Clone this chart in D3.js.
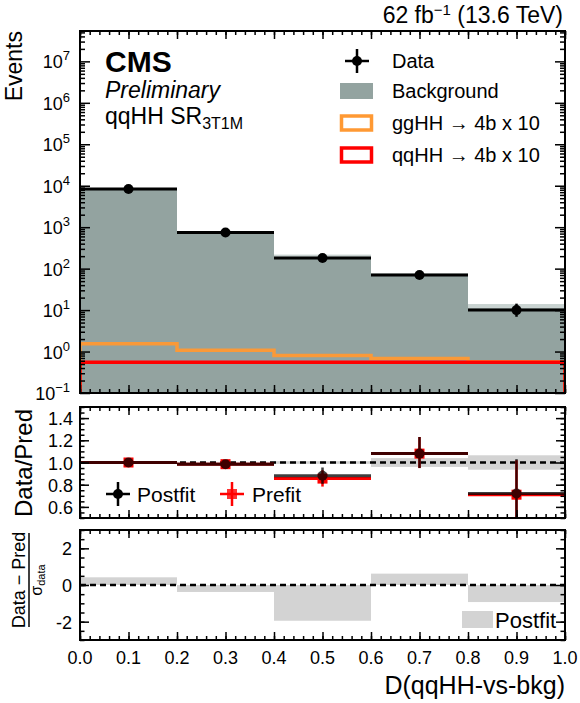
<!DOCTYPE html>
<html>
<head>
<meta charset="utf-8">
<script src="https://cdn.jsdelivr.net/npm/d3@7"></script>
<style>
  body { margin: 0; background: #fff; }
  svg text { font-family: "Liberation Sans", Arial, Helvetica, sans-serif; fill: #000; }
  .axis path { display: none; }
  .axis line { stroke: #000; stroke-width: 1.5; }
</style>
</head>
<body>
<svg id="chart" width="580" height="703"></svg>
<script>
// bins of D(qqHH-vs-bkg)
const binEdges = [0, 0.2, 0.4, 0.6, 0.8, 1.0];

// top panel (events)
const dataCounts = [8300, 745, 180, 70, 10];
const dataErrUp = [92, 28, 14, 9, 4.3];
const dataErrDown = [91, 27, 13, 8, 3.1];
const bkgCounts = [8300, 715, 190, 69, 11];
const bkgUncUp = [8500, 760, 218, 77, 14];
const bkgUncDown = [8100, 680, 175, 63, 10];
const ggHHx10 = [1.55, 1.08, 0.8, 0.68, 0.57];
const qqHHx10 = [0.55, 0.55, 0.55, 0.55, 0.55];

// middle panel (data / pred)
const ratioPostfit = [1.0, 0.985, 0.88, 1.08, 0.72];
const ratioPostfitUp = [0.012, 0.037, 0.075, 0.15, 0.31];
const ratioPostfitDown = [0.012, 0.036, 0.072, 0.13, 0.25];
const ratioPrefit = [1.0, 0.985, 0.855, 1.08, 0.71];
const ratioPrefitUp = [0.012, 0.037, 0.075, 0.15, 0.31];
const ratioPrefitDown = [0.012, 0.036, 0.072, 0.13, 0.25];
const predRelUnc = [0.004, 0.006, 0.012, 0.04, 0.065];

// bottom panel (pulls)
const pullPostfit = [0.42, -0.38, -1.95, 0.62, -0.93];

// tick values
const xMajorTicks = [0, 0.1, 0.2, 0.3, 0.4, 0.5, 0.6, 0.7, 0.8, 0.9, 1.0];
const logExponents = [-1, 0, 1, 2, 3, 4, 5, 6, 7];
const ratioMajorTicks = [0.6, 0.8, 1.0, 1.2, 1.4];
const pullMajorTicks = [-2, 0, 2];

const bkgColor = "#93a3a0";
const bandColor = "#d3d3d3";

const svg = d3.select("#chart");
const X0 = 80, X1 = 565;
const panels = {
  top: [31, 393],
  ratio: [407, 518],
  pull: [530, 640]
};

const x = d3.scaleLinear().domain([0, 1]).range([X0, X1]);
const yTop = d3.scaleLog().domain([0.1, 5.4e7]).range([panels.top[1], panels.top[0]]);
const yRatio = d3.scaleLinear().domain([0.5, 1.5]).range([panels.ratio[1], panels.ratio[0]]);
const yPull = d3.scaleLinear().domain([-3, 3]).range([panels.pull[1], panels.pull[0]]);

const bins = d3.range(binEdges.length - 1).map(i => ({
  i: i, lo: binEdges[i], hi: binEdges[i + 1], mid: (binEdges[i] + binEdges[i + 1]) / 2
}));

// clip each panel
const defs = svg.append("defs");
Object.entries(panels).forEach(([k, [t, b]]) => {
  defs.append("clipPath").attr("id", "clip-" + k)
    .append("rect").attr("x", X0).attr("y", t).attr("width", X1 - X0).attr("height", b - t);
});

function stepPath(vals, yScale, yBase) {
  let p = d3.path();
  p.moveTo(x(binEdges[0]), yBase);
  vals.forEach((v, i) => {
    p.lineTo(x(binEdges[i]), yScale(v));
    p.lineTo(x(binEdges[i + 1]), yScale(v));
  });
  p.lineTo(x(binEdges[binEdges.length - 1]), yBase);
  return p.toString();
}

function xTicks(top, bottom) {
  const minor = d3.range(0, 1.0001, 0.02);
  [[d3.axisBottom, bottom], [d3.axisTop, top]].forEach(([ax, yy]) => {
    svg.append("g").attr("class", "axis").attr("transform", `translate(0,${yy})`)
      .call(ax(x).tickValues(xMajorTicks).tickSize(-8).tickFormat(""));
    svg.append("g").attr("class", "axis").attr("transform", `translate(0,${yy})`)
      .call(ax(x).tickValues(minor).tickSize(-4).tickFormat(""));
  });
}

function yTicks(yScale, major, minor, majLen, minLen) {
  [[d3.axisLeft, X0], [d3.axisRight, X1]].forEach(([ax, xx]) => {
    svg.append("g").attr("class", "axis").attr("transform", `translate(${xx},0)`)
      .call(ax(yScale).tickValues(major).tickSize(-majLen).tickFormat(""));
    svg.append("g").attr("class", "axis").attr("transform", `translate(${xx},0)`)
      .call(ax(yScale).tickValues(minor).tickSize(-minLen).tickFormat(""));
  });
}

function frame([t, b]) {
  svg.append("rect").attr("x", X0).attr("y", t).attr("width", X1 - X0).attr("height", b - t)
    .attr("fill", "none").attr("stroke", "#000").attr("stroke-width", 2);
}

// ---------------- top panel ----------------
const gTop = svg.append("g").attr("clip-path", "url(#clip-top)");

gTop.selectAll(".bkg").data(bins).enter().append("rect")
  .attr("x", d => x(d.lo)).attr("width", d => x(d.hi) - x(d.lo))
  .attr("y", d => yTop(bkgCounts[d.i])).attr("height", d => panels.top[1] - yTop(bkgCounts[d.i]))
  .attr("fill", bkgColor).attr("shape-rendering", "crispEdges");

gTop.selectAll(".band").data(bins).enter().append("rect")
  .attr("x", d => x(d.lo)).attr("width", d => x(d.hi) - x(d.lo))
  .attr("y", d => yTop(bkgUncUp[d.i])).attr("height", d => yTop(bkgCounts[d.i]) - yTop(bkgUncUp[d.i]))
  .attr("fill", "#c9d3d1");

gTop.append("path").attr("d", stepPath(ggHHx10, yTop, panels.top[1]))
  .attr("fill", "none").attr("stroke", "#ff9933").attr("stroke-width", 3.5).attr("opacity", 0.95);
gTop.append("path").attr("d", stepPath(qqHHx10, yTop, panels.top[1]))
  .attr("fill", "none").attr("stroke", "#ff0000").attr("stroke-width", 3.5);

const gData = gTop.selectAll(".data").data(bins).enter().append("g");
gData.append("line")
  .attr("x1", d => x(d.lo)).attr("x2", d => x(d.hi))
  .attr("y1", d => yTop(dataCounts[d.i])).attr("y2", d => yTop(dataCounts[d.i]))
  .attr("stroke", "#000").attr("stroke-width", 3);
gData.append("line")
  .attr("x1", d => x(d.mid)).attr("x2", d => x(d.mid))
  .attr("y1", d => yTop(dataCounts[d.i] + dataErrUp[d.i])).attr("y2", d => yTop(dataCounts[d.i] - dataErrDown[d.i]))
  .attr("stroke", "#000").attr("stroke-width", 2.5);
gData.append("circle")
  .attr("cx", d => x(d.mid)).attr("cy", d => yTop(dataCounts[d.i])).attr("r", 5)
  .attr("fill", "#000");

const logMinor = [];
logExponents.forEach(e => { for (let k = 2; k <= 9; k++) if (k * Math.pow(10, e) < 5.4e7) logMinor.push(k * Math.pow(10, e)); });
xTicks(panels.top[0], panels.top[1]);
yTicks(yTop, logExponents.map(e => Math.pow(10, e)), logMinor, 10, 5);
frame(panels.top);

// y labels 10^n
const yLab = svg.selectAll(".ylab").data(logExponents).enter().append("text")
  .attr("x", 70).attr("y", e => yTop(Math.pow(10, e)) + 7)
  .attr("text-anchor", "end").style("font-size", "18px");
yLab.append("tspan").text("10");
yLab.append("tspan").attr("dy", -8).style("font-size", "13px").text(e => e < 0 ? "\u22121" : e);

svg.append("text").attr("transform", "translate(22,31) rotate(-90)")
  .attr("text-anchor", "end").style("font-size", "23px").text("Events");

// header texts
const lumi = svg.append("text").attr("x", 563).attr("y", 23).attr("text-anchor", "end").style("font-size", "23px");
lumi.append("tspan").text("62 fb");
lumi.append("tspan").attr("dy", -8).style("font-size", "15px").text("\u22121");
lumi.append("tspan").attr("dy", 8).text(" (13.6 TeV)");

svg.append("text").attr("x", 105).attr("y", 72).style("font-size", "30px").style("font-weight", "bold").text("CMS");
svg.append("text").attr("x", 105).attr("y", 98).style("font-size", "23px").style("font-style", "italic").text("Preliminary");
const reg = svg.append("text").attr("x", 105).attr("y", 124).style("font-size", "23px");
reg.append("tspan").text("qqHH SR");
reg.append("tspan").attr("dy", 5).style("font-size", "16px").text("3T1M");

// legend
const legX = 357, legTextX = 392;
const legY = [61, 91, 123, 155];
svg.append("line").attr("x1", legX - 12).attr("x2", legX + 12).attr("y1", legY[0]).attr("y2", legY[0]).attr("stroke", "#000").attr("stroke-width", 2.5);
svg.append("line").attr("x1", legX).attr("x2", legX).attr("y1", legY[0] - 12).attr("y2", legY[0] + 12).attr("stroke", "#000").attr("stroke-width", 2.5);
svg.append("circle").attr("cx", legX).attr("cy", legY[0]).attr("r", 5).attr("fill", "#000");
svg.append("rect").attr("x", legX - 17).attr("y", legY[1] - 8).attr("width", 33).attr("height", 16).attr("fill", bkgColor);
svg.append("rect").attr("x", legX - 15.5).attr("y", legY[2] - 7).attr("width", 30).attr("height", 14)
  .attr("fill", "none").attr("stroke", "#ff9933").attr("stroke-width", 3.5);
svg.append("rect").attr("x", legX - 15.5).attr("y", legY[3] - 7).attr("width", 30).attr("height", 14)
  .attr("fill", "none").attr("stroke", "#ff0000").attr("stroke-width", 3.5);
const legLabels = ["Data", "Background", "ggHH \u2192 4b x 10", "qqHH \u2192 4b x 10"];
svg.selectAll(".leg").data(legLabels).enter().append("text")
  .attr("x", legTextX).attr("y", (d, i) => legY[i] + 7).style("font-size", "20px").text(d => d);

// ---------------- ratio panel ----------------
const gRatio = svg.append("g").attr("clip-path", "url(#clip-ratio)");
gRatio.selectAll(".rband").data(bins).enter().append("rect")
  .attr("x", d => x(d.lo)).attr("width", d => x(d.hi) - x(d.lo))
  .attr("y", d => yRatio(1 + predRelUnc[d.i])).attr("height", d => yRatio(1 - predRelUnc[d.i]) - yRatio(1 + predRelUnc[d.i]))
  .attr("fill", bandColor);
gRatio.append("line").attr("x1", X0).attr("x2", X1).attr("y1", yRatio(1)).attr("y2", yRatio(1))
  .attr("stroke", "#000").attr("stroke-width", 2.5).attr("stroke-dasharray", "6,4");

function ratioPoints(vals, up, down, color, opacity, marker) {
  const g = gRatio.selectAll(null).data(bins).enter().append("g").attr("opacity", opacity);
  g.append("line")
    .attr("x1", d => x(d.lo)).attr("x2", d => x(d.hi))
    .attr("y1", d => yRatio(vals[d.i])).attr("y2", d => yRatio(vals[d.i]))
    .attr("stroke", color).attr("stroke-width", 3);
  g.append("line")
    .attr("x1", d => x(d.mid)).attr("x2", d => x(d.mid))
    .attr("y1", d => yRatio(vals[d.i] + up[d.i])).attr("y2", d => yRatio(vals[d.i] - down[d.i]))
    .attr("stroke", color).attr("stroke-width", 2.5);
  if (marker === "square") {
    g.append("rect").attr("x", d => x(d.mid) - 5).attr("y", d => yRatio(vals[d.i]) - 5)
      .attr("width", 10).attr("height", 10).attr("fill", color);
  } else {
    g.append("circle").attr("cx", d => x(d.mid)).attr("cy", d => yRatio(vals[d.i])).attr("r", 5).attr("fill", color);
  }
}
ratioPoints(ratioPrefit, ratioPrefitUp, ratioPrefitDown, "#ff0000", 1, "square");
ratioPoints(ratioPostfit, ratioPostfitUp, ratioPostfitDown, "#000", 0.75, "circle");

// ratio legend
function legMarker(cx, cy, color, marker) {
  svg.append("line").attr("x1", cx - 12).attr("x2", cx + 12).attr("y1", cy).attr("y2", cy).attr("stroke", color).attr("stroke-width", 2.5);
  svg.append("line").attr("x1", cx).attr("x2", cx).attr("y1", cy - 12).attr("y2", cy + 12).attr("stroke", color).attr("stroke-width", 2.5);
  if (marker === "square") svg.append("rect").attr("x", cx - 5).attr("y", cy - 5).attr("width", 10).attr("height", 10).attr("fill", color).attr("opacity", 0.8);
  else svg.append("circle").attr("cx", cx).attr("cy", cy).attr("r", 5).attr("fill", color);
}
legMarker(118, 494, "#000", "circle");
svg.append("text").attr("x", 137).attr("y", 502).style("font-size", "21px").text("Postfit");
legMarker(232, 494, "#ff0000", "square");
svg.append("text").attr("x", 252).attr("y", 502).style("font-size", "21px").text("Prefit");

xTicks(panels.ratio[0], panels.ratio[1]);
yTicks(yRatio, ratioMajorTicks, d3.range(0.5, 1.5001, 0.05), 9, 4.5);
frame(panels.ratio);

svg.selectAll(".rlab").data(ratioMajorTicks).enter().append("text")
  .attr("x", 73).attr("y", d => yRatio(d) + 7).attr("text-anchor", "end")
  .style("font-size", "18px").text(d3.format(".1f"));
svg.append("text").attr("transform", "translate(32,463) rotate(-90)")
  .attr("text-anchor", "middle").style("font-size", "24px").text("Data/Pred");

// ---------------- pull panel ----------------
const gPull = svg.append("g").attr("clip-path", "url(#clip-pull)");
gPull.selectAll(".pull").data(bins).enter().append("rect")
  .attr("x", d => x(d.lo)).attr("width", d => x(d.hi) - x(d.lo))
  .attr("y", d => yPull(Math.max(0, pullPostfit[d.i])))
  .attr("height", d => Math.abs(yPull(0) - yPull(pullPostfit[d.i])))
  .attr("fill", bandColor);
gPull.append("line").attr("x1", X0).attr("x2", X1).attr("y1", yPull(0)).attr("y2", yPull(0))
  .attr("stroke", "#000").attr("stroke-width", 2.5).attr("stroke-dasharray", "6,4");

svg.append("rect").attr("x", 462).attr("y", 611).attr("width", 31).attr("height", 17).attr("fill", bandColor);
svg.append("text").attr("x", 495).attr("y", 628).style("font-size", "22px").text("Postfit");

xTicks(panels.pull[0], panels.pull[1]);
yTicks(yPull, pullMajorTicks, d3.range(-3, 3.001, 0.5), 9, 4.5);
frame(panels.pull);

svg.selectAll(".plab").data(pullMajorTicks).enter().append("text")
  .attr("x", 72).attr("y", d => yPull(d) + 7).attr("text-anchor", "end")
  .style("font-size", "18px").text(d => d);

svg.append("text").attr("transform", "translate(25,580) rotate(-90)")
  .attr("text-anchor", "middle").style("font-size", "18px").text("Data \u2212 Pred");
svg.append("line").attr("x1", 29).attr("x2", 29).attr("y1", 533).attr("y2", 627).attr("stroke", "#000").attr("stroke-width", 1.5);
const den = svg.append("text").attr("transform", "translate(42,580) rotate(-90)")
  .attr("text-anchor", "middle").style("font-size", "16px");
den.append("tspan").text("\u03c3");
den.append("tspan").attr("dy", 3).style("font-size", "11px").text("data");

// x axis labels
svg.selectAll(".xlab").data(xMajorTicks).enter().append("text")
  .attr("x", d => x(d)).attr("y", 664).attr("text-anchor", "middle")
  .style("font-size", "18px").text(d3.format(".1f"));
svg.append("text").attr("x", 565).attr("y", 694).attr("text-anchor", "end")
  .style("font-size", "25px").text("D(qqHH-vs-bkg)");
</script>
</body>
</html>
